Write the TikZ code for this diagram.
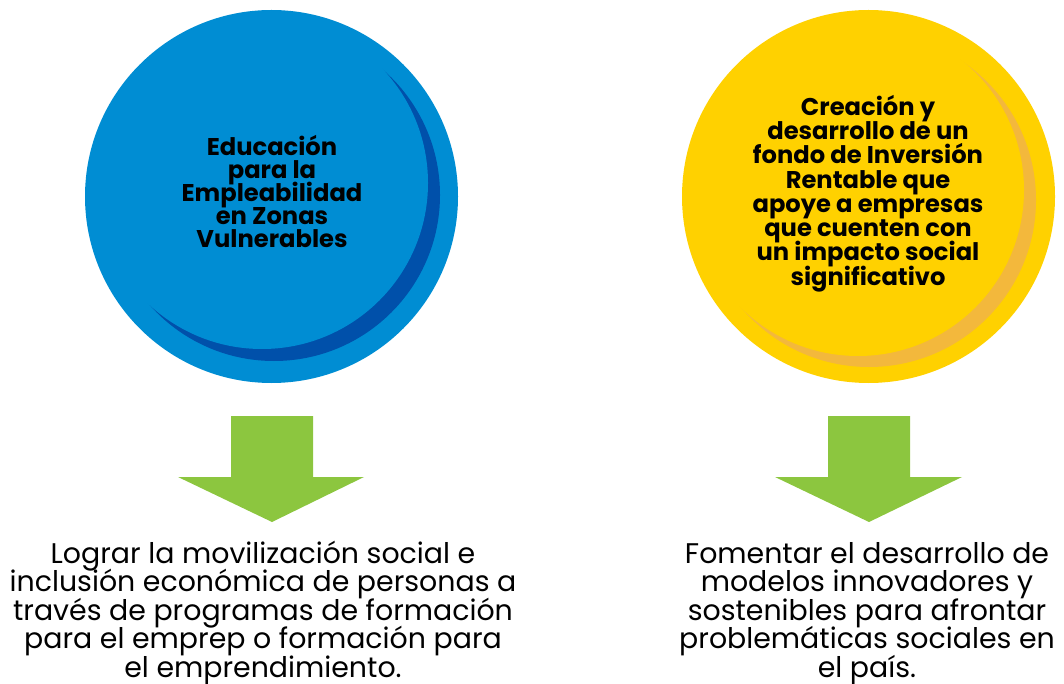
\documentclass[tikz,border=0pt]{standalone}
\usepackage{fontspec}
\setmainfont{Poppins}
\newcommand\tightskip{\lineskiplimit-40pt\relax}
\definecolor{cblue}{RGB}{0,141,211}
\definecolor{cdarkblue}{RGB}{0,80,170}
\definecolor{cyellow}{RGB}{255,209,0}
\definecolor{corange}{RGB}{243,184,60}
\definecolor{cgreen}{RGB}{140,198,63}
\tikzset{
  circtext/.style={align=center,inner sep=0pt,text=black,font=\bfseries\fontsize{24.2}{23}\selectfont\tightskip},
  bottext/.style={align=center,inner sep=0pt,text=black,font=\fontsize{28.4}{28.5}\selectfont\tightskip},
  arrowshape/.style={fill=cgreen,draw=none}
}
\begin{document}
\begin{tikzpicture}[x=1pt,y=-1pt]
\useasboundingbox (0,0) rectangle (1064,684);
% blue circle
\fill[cblue] (271.5,196.5) circle (186.5);
\fill[cdarkblue] (274,195) circle (166);
\fill[cblue] (262,183) circle (166);
% yellow circle
\fill[cyellow] (868.5,196.5) circle (186.5);
\fill[corange] (869,200) circle (167);
\fill[cyellow] (858,190) circle (166);
% arrows
\fill[arrowshape] (231,416) -- (313,416) -- (313,477) -- (364,477) -- (272,522) -- (178,477) -- (231,477) -- cycle;
\fill[arrowshape] (828,416) -- (910,416) -- (910,477) -- (962,477) -- (869,522) -- (775,477) -- (828,477) -- cycle;
% texts
\node[circtext,anchor=base] (t1) at (272,248) {Educación\\para la\\Empleabilidad\\en Zonas\\Vulnerables};
\node[circtext,anchor=base,font=\bfseries\fontsize{24.2}{24.2}\selectfont\tightskip] (t2) at (868,285) {Creación y\\desarrollo de un\\fondo de Inversión\\Rentable que\\apoye a empresas\\que cuenten con\\un impacto social\\significativo};
\node[bottext,anchor=base] (b1) at (263,677) {Lograr la movilización social e\\inclusión económica de personas a\\través de programas de formación\\para el emprep o formación para\\el emprendimiento.};
\node[bottext,anchor=base] (b2) at (867,677) {Fomentar el desarrollo de\\modelos innovadores y\\sostenibles para afrontar\\problemáticas sociales en\\el país.};
\end{tikzpicture}
\end{document}
